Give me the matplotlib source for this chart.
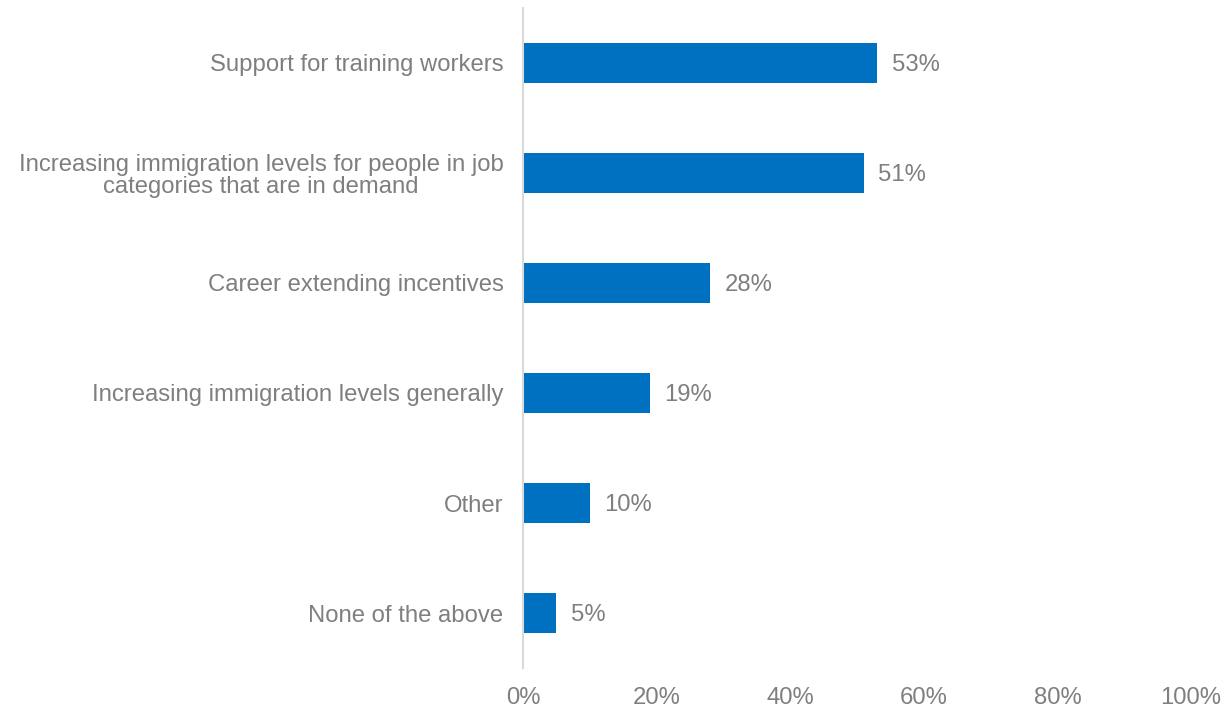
import matplotlib
matplotlib.use("Agg")
import matplotlib.pyplot as plt
from matplotlib.ticker import FuncFormatter

categories = [
    "Support for training workers",
    "Increasing immigration levels for people in job\ncategories that are in demand",
    "Career extending incentives",
    "Increasing immigration levels generally",
    "Other",
    "None of the above",
]
values = [53, 51, 28, 19, 10, 5]
x_ticks = [0, 20, 40, 60, 80, 100]

BAR_COLOR = "#0070C0"
TEXT_COLOR = "#7F7F7F"
FS = 17.2

plt.rcParams["font.family"] = ["Liberation Sans", "DejaVu Sans"]

fig = plt.figure(figsize=(12.24, 7.10), dpi=100)
ax = fig.add_axes([523 / 1224, 1 - 668 / 710, (1191 - 523) / 1224, (668 - 8) / 710])

y = list(range(len(categories)))
ax.barh(y, values, height=0.36, color=BAR_COLOR)

for yi, v in zip(y, values):
    ax.annotate(f"{v}%", xy=(v, yi), xytext=(10.5, -1.2), textcoords="offset points",
                va="center", ha="left", fontsize=FS, color=TEXT_COLOR)

ax.set_xlim(0, 100)
ax.set_ylim(len(categories) - 0.5, -0.5)
ax.set_yticks(y)
ax.set_yticklabels(categories, fontsize=FS, color=TEXT_COLOR, linespacing=1.05,
                   multialignment="center")
ax.set_xticks(x_ticks)
ax.xaxis.set_major_formatter(FuncFormatter(lambda v, p: f"{v:.0f}%"))
ax.tick_params(axis="x", labelsize=FS, labelcolor=TEXT_COLOR, length=0, pad=14)
ax.tick_params(axis="y", length=0, pad=14)

for s in ["top", "right", "bottom"]:
    ax.spines[s].set_visible(False)
ax.spines["left"].set_color("#D9D9D9")
ax.spines["left"].set_linewidth(1.5)

fig.savefig("out.png", dpi=100)
